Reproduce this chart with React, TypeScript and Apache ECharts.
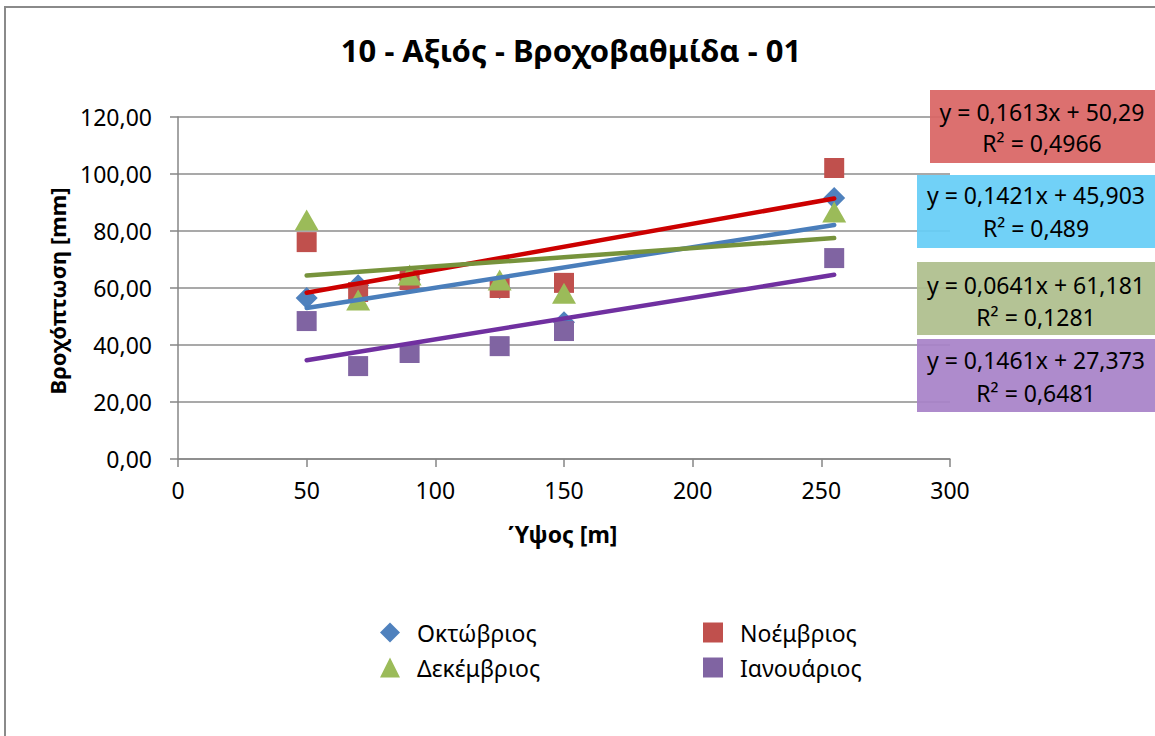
import React, { useEffect, useRef } from "react";
import * as echarts from "echarts";

const FONT = "'Noto Sans', 'Open Sans', sans-serif";

// Data
const altitudes = [50, 70, 90, 125, 150, 255];
const octoberValues = [56.5, 61.0, 63.0, 60.0, 48.0, 91.6];
const novemberValues = [76.1, 58.6, 62.8, 60.0, 61.8, 102.1];
const decemberValues = [83.9, 55.8, 64.6, 62.8, 58.2, 86.7];
const januaryValues = [48.4, 32.6, 37.2, 39.6, 44.9, 70.5];

const monthNames = ["Οκτώβριος", "Νοέμβριος", "Δεκέμβριος", "Ιανουάριος"];
const monthValues = [octoberValues, novemberValues, decemberValues, januaryValues];

const trendSlopes = [0.1421, 0.1613, 0.0641, 0.1461];
const trendIntercepts = [45.903, 50.29, 61.181, 27.373];
const trendR2 = ["0,489", "0,4966", "0,1281", "0,6481"];

const titleText = "10 - Αξιός - Βροχοβαθμίδα - 01";
const xAxisTitle = "Ύψος [m]";
const yAxisTitle = "Βροχόπτωση [mm]";

// Styles
const markerColors = ["#4F81BD", "#C0504D", "#9BBB59", "#8064A2"];
const markerSymbols = ["diamond", "rect", "triangle", "rect"];
const markerSizes = [[22, 22], [20, 20], [24, 21], [20, 20]];
const trendColors = ["#4A7EBB", "#CC0000", "#77933C", "#7030A0"];
const labelFills = ["#66CDF6", "#D96564", "#AEBE8D", "#A882C8"];
const labelBoxes = [
  { x: 917, y: 175, cx: 1036, l1: 195, l2: 228 },
  { x: 930, y: 90, cx: 1042, l1: 112, l2: 143 },
  { x: 917, y: 262, cx: 1036, l1: 285, l2: 317 },
  { x: 917, y: 339, cx: 1036, l1: 360, l2: 393 },
];

const fmt = (v: number) => String(v).replace(".", ",");

export default function App() {
  const ref = useRef<HTMLDivElement>(null);

  useEffect(() => {
    if (!ref.current) return;
    const chart = echarts.init(ref.current, undefined, { renderer: "svg" });

    const xMin = Math.min(...altitudes);
    const xMax = Math.max(...altitudes);

    const scatterSeries = monthNames.map((name, i) => ({
      type: "scatter",
      name,
      data: altitudes.map((x, j) => [x, monthValues[i][j]]),
      symbol: markerSymbols[i],
      symbolSize: markerSizes[i],
      itemStyle: { color: markerColors[i], opacity: 1 },
      z: 2,
      silent: true,
    }));

    const trendSeries = monthNames.map((name, i) => ({
      type: "line",
      name: name + " (trend)",
      data: [
        [xMin, trendIntercepts[i] + trendSlopes[i] * xMin],
        [xMax, trendIntercepts[i] + trendSlopes[i] * xMax],
      ],
      symbol: "none",
      lineStyle: { color: trendColors[i], width: 4.5, cap: "round" },
      z: 3,
      silent: true,
    }));

    const graphics: any[] = [
      {
        type: "rect",
        shape: { x: 5, y: 7, width: 1300, height: 900 },
        style: { fill: "none", stroke: "#8a8a8a", lineWidth: 2 },
        z: -10,
        silent: true,
      },
      {
        type: "text",
        x: 571,
        y: 50,
        style: {
          text: titleText,
          fontFamily: FONT,
          fontSize: 31,
          fontWeight: "bold",
          fill: "#000",
          align: "center",
          verticalAlign: "middle",
        },
      },
      {
        type: "text",
        x: 563,
        y: 534,
        style: {
          text: xAxisTitle,
          fontFamily: FONT,
          fontSize: 23,
          fontWeight: "bold",
          fill: "#000",
          align: "center",
          verticalAlign: "middle",
        },
      },
      {
        type: "text",
        x: 57,
        y: 291,
        rotation: Math.PI / 2,
        style: {
          text: yAxisTitle,
          fontFamily: FONT,
          fontSize: 22,
          fontWeight: "bold",
          fill: "#000",
          align: "center",
          verticalAlign: "middle",
        },
      },
    ];

    labelBoxes.forEach((b, i) => {
      graphics.push({
        type: "rect",
        shape: { x: b.x, y: b.y, width: 1155 - b.x + 20, height: 73 },
        style: { fill: labelFills[i], opacity: 0.93 },
        z: 10,
        silent: true,
      });
      graphics.push({
        type: "text",
        x: b.cx,
        y: b.l1,
        z: 11,
        style: {
          text: `y = ${fmt(trendSlopes[i])}x + ${fmt(trendIntercepts[i])}`,
          fontFamily: FONT,
          fontSize: 23,
          fill: "#000",
          align: "center",
          verticalAlign: "middle",
        },
      });
      graphics.push({
        type: "text",
        x: b.cx,
        y: b.l2,
        z: 11,
        style: {
          text: `R² = ${trendR2[i]}`,
          fontFamily: FONT,
          fontSize: 23,
          fill: "#000",
          align: "center",
          verticalAlign: "middle",
        },
      });
    });

    const legendCommon = {
      orient: "vertical",
      top: 616,
      itemWidth: 20,
      itemHeight: 20,
      itemGap: 12,
      selectedMode: false,
      textStyle: {
        fontFamily: FONT,
        fontSize: 23,
        lineHeight: 23,
        color: "#000",
        padding: [0, 0, 0, 12],
      },
    };

    chart.setOption({
      animation: false,
      backgroundColor: "#fff",
      grid: { left: 178, top: 117, right: 205, bottom: 277, containLabel: false },
      xAxis: {
        type: "value",
        min: 0,
        max: 300,
        interval: 50,
        axisLine: { show: true, onZero: false, lineStyle: { color: "#868686", width: 1.5 } },
        axisTick: { show: true, length: 8, lineStyle: { color: "#868686", width: 1.5 } },
        axisLabel: { fontFamily: FONT, fontSize: 23, color: "#000", margin: 19 },
        splitLine: { show: false },
      },
      yAxis: {
        type: "value",
        min: 0,
        max: 120,
        interval: 20,
        axisLine: { show: true, lineStyle: { color: "#868686", width: 1.5 } },
        axisTick: { show: true, length: 8, lineStyle: { color: "#868686", width: 1.5 } },
        axisLabel: {
          fontFamily: FONT,
          fontSize: 23,
          color: "#000",
          margin: 26,
          formatter: (v: number) => v.toFixed(2).replace(".", ","),
        },
        splitLine: { show: true, lineStyle: { color: "#8c8c8c", width: 1.5 } },
      },
      legend: [
        { ...legendCommon, left: 375, data: [monthNames[0], monthNames[2]] },
        { ...legendCommon, left: 698, data: [monthNames[1], monthNames[3]] },
      ],
      graphic: graphics,
      series: [...scatterSeries, ...trendSeries],
    });

    return () => chart.dispose();
  }, []);

  return (
    <div
      ref={ref}
      style={{ position: "fixed", left: 0, top: 0, width: 1155, height: 736 }}
    />
  );
}
